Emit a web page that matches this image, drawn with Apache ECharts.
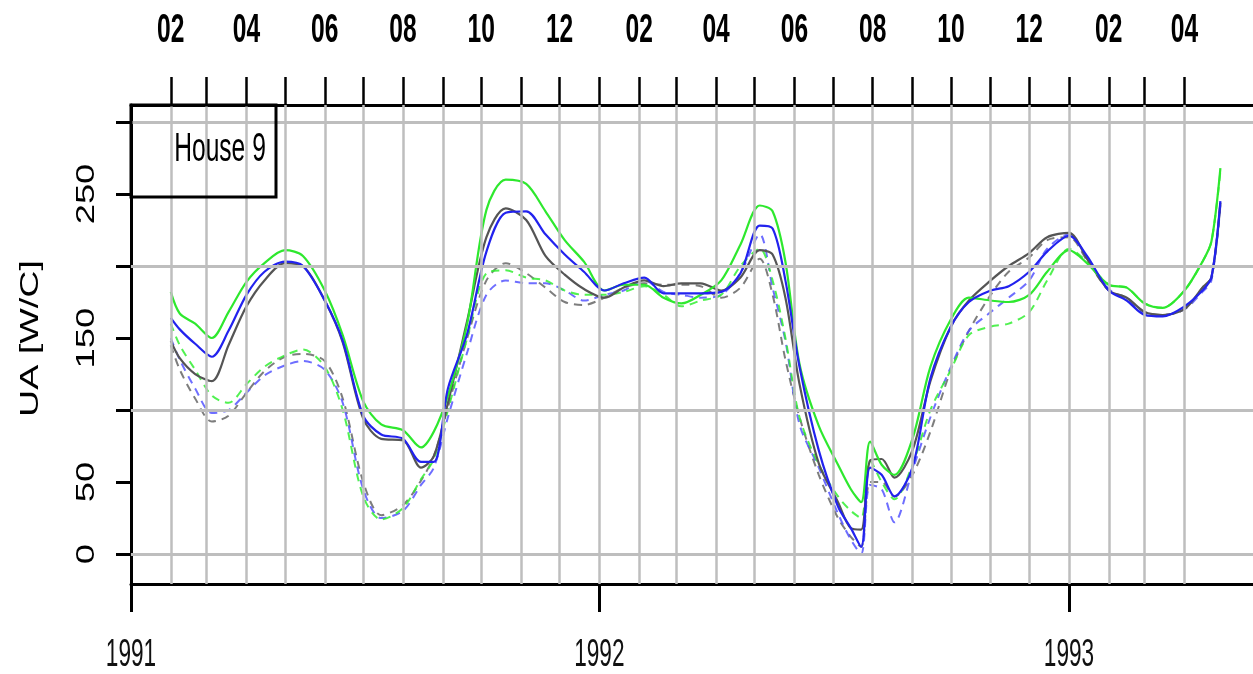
<!DOCTYPE html>
<html><head><meta charset="utf-8">
<script src="https://cdn.jsdelivr.net/npm/echarts@6/dist/echarts.min.js"></script>
<style>html,body{margin:0;padding:0;background:#fff}#c{width:1253px;height:674px}</style>
</head><body><div id="c"></div>
<script>
// ---- data ----
const dates = [
'1991-02-01','1991-02-08','1991-02-20','1991-03-05','1991-03-18','1991-04-01','1991-04-15','1991-05-01','1991-05-15','1991-06-01',
'1991-06-15','1991-07-01','1991-07-15','1991-08-01','1991-08-15','1991-08-25','1991-09-05','1991-09-20','1991-10-05','1991-10-20',
'1991-11-05','1991-11-20','1991-12-05','1991-12-20','1992-01-05','1992-01-20','1992-02-05','1992-02-20','1992-03-05','1992-03-20',
'1992-04-05','1992-04-20','1992-05-05','1992-05-15','1992-05-25','1992-06-05','1992-06-20','1992-07-05','1992-07-15','1992-07-23',
'1992-07-30','1992-08-08','1992-08-18','1992-09-01','1992-09-15','1992-10-01','1992-10-15','1992-11-01','1992-11-15','1992-12-01',
'1992-12-15','1993-01-01','1993-01-15','1993-02-01','1993-02-15','1993-03-01','1993-03-15','1993-04-01','1993-04-15','1993-04-22',
'1993-04-29'];
const solidGreen = [
182,167,160,150,168,189,202,211,207,183,
152,106,90,86,74,85,110,160,239,260,
257,238,218,203,183,187,187,178,174,180,
190,215,242,238,203,132,89,62,45,36,
78,62,55,80,130,163,178,176,175,180,
196,211,202,187,185,174,171,183,203,217,
268];
const solidBlue = [
164,156,146,137,155,180,196,203,200,176,
148,96,83,80,64,64,115,153,210,237,
238,222,208,196,183,188,192,181,181,181,
182,195,228,226,190,130,72,33,18,5,
60,55,40,60,122,158,175,183,186,196,
210,221,207,183,176,166,165,172,183,192,
245];
const solidGray = [
148,136,125,120,145,172,190,202,200,176,
147,94,80,79,60,68,105,162,220,240,
232,207,194,184,178,185,190,186,188,188,
183,192,211,208,178,118,63,36,18,17,
65,66,53,72,120,158,176,190,200,209,
220,223,205,183,178,168,166,170,185,192,
244];
const dashGray = [
145,128,108,92,96,112,127,137,139,134,
108,50,27,34,51,68,102,150,190,202,
195,185,175,173,178,185,188,187,187,186,
178,185,205,180,135,95,55,25,12,5,
50,50,40,55,85,128,155,180,196,206,
218,220,204,183,178,168,166,170,185,192,
244];
const dashBlue = [
150,135,115,98,100,112,124,131,134,128,
105,45,25,30,48,60,95,140,180,190,
188,188,183,176,180,183,190,182,180,178,
180,195,222,185,148,90,60,28,10,0,
48,45,22,58,95,130,155,168,178,190,
212,222,205,184,177,167,166,170,182,190,
242];
const dashGreen = [
160,145,128,110,105,118,130,138,142,130,
100,40,24,32,52,66,100,150,195,197,
192,190,183,180,180,182,186,180,172,176,
180,200,212,190,150,95,62,40,30,25,
65,50,38,62,100,128,152,158,160,168,
190,212,203,187,185,174,171,183,203,217,
266];

// ---- axis / tick definitions ----
const yearTickDates = ['1991-01-01','1992-01-01','1993-01-01'];
const yTickValues = [0,50,100,150,200,250,300];
const yLabelValues = [0,50,150,250];
const hGridValues = [0,100,200,300];
const xMinDate = '1991-01-01';
const lastMonthDate = '1993-04-01';
const xSpanDays = 874.4;
const yMin = -20.8, yMax = 311.8;
const panelTitle = 'House 9';
const yName = 'UA [W/C]';

function ts(s){ const p=s.split('-').map(Number); return new Date(p[0],p[1]-1,p[2]).getTime(); }
const xMin = ts(xMinDate);
const xMax = xMin + xSpanDays*86400000;
const monthStarts = [];
for (let y=1991; y<=1993; y++) for (let m=0; m<12; m++) {
  const v = new Date(y,m,1).getTime();
  if (v > xMin && v <= ts(lastMonthDate)) monthStarts.push(v);
}
const topLabelTicks = monthStarts.filter(v => (new Date(v).getMonth()+1) % 2 === 0);
const yearTicks = yearTickDates.map(ts);
const times = dates.map(ts);

const sansFam = '"Liberation Sans",Arial,Helvetica,sans-serif';
const fmtMonth = v => { const m=new Date(v).getMonth()+1; return (m<10?'0':'')+m; };
const fmtYear = v => String(new Date(v).getFullYear());

function mk(name, arr, color, dashed, opacity, width){
  return {
    name, type:'line', xAxisIndex:0, yAxisIndex:0,
    data: times.map((t,i)=>[t, arr[i]]),
    showSymbol:false, symbol:'none', smooth:0.3, z:3,
    lineStyle:{color, width:width, type: dashed ? [8,6] : 'solid', opacity: opacity},
    emphasis:{disabled:true}
  };
}

const chart = echarts.init(document.getElementById('c'), null, {renderer:'canvas'});
chart.setOption({
  animation:false,
  backgroundColor:'#fff',
  grid:{left:131, top:105, right:0, bottom:90, containLabel:false, outerBoundsMode:'none'},
  xAxis:[{
    type:'value', position:'bottom', min:xMin, max:xMax, scale:true,
    axisLine:{show:true, onZero:false, lineStyle:{color:'#000', width:3}},
    axisTick:{show:true, customValues:yearTicks, length:28, lineStyle:{color:'#000', width:3}},
    axisLabel:{show:false},
    splitLine:{show:false}
  },{
    type:'value', position:'top', min:xMin, max:xMax, scale:true,
    axisLine:{show:true, onZero:false, lineStyle:{color:'#000', width:3}},
    axisTick:{show:true, customValues:monthStarts, length:28, lineStyle:{color:'#000', width:2.5}},
    axisLabel:{show:false},
    splitLine:{show:false}
  }],
  yAxis:[{
    type:'value', min:yMin, max:yMax,
    axisLine:{show:true, onZero:false, lineStyle:{color:'#000', width:3}},
    axisTick:{show:true, customValues:yTickValues, length:15, lineStyle:{color:'#000', width:3}},
    axisLabel:{show:false},
    splitLine:{show:false}
  }],
  series:[
    {type:'line', data:[], z:1, silent:true,
     markLine:{silent:true, symbol:'none', label:{show:false}, animation:false,
       lineStyle:{color:'#bebebe', width:3, type:'solid'},
       emphasis:{disabled:true},
       data: hGridValues.map(v=>({yAxis:v})).concat(monthStarts.map(v=>({xAxis:v, lineStyle:{width:2.5, color:'#bebebe', type:'solid'}})))
     }},
    mk('dashGray', dashGray, '#666666', true, 0.85, 2),
    mk('dashBlue', dashBlue, '#5555ff', true, 0.85, 2),
    mk('dashGreen', dashGreen, '#33ee33', true, 0.85, 2),
    mk('solidGray', solidGray, '#555555', false, 1, 2.2),
    mk('solidGreen', solidGreen, '#2ee82e', false, 1, 2.2),
    mk('solidBlue', solidBlue, '#2222ee', false, 1, 2.2)
  ]
});

// Axis texts placed at positions given by the chart's own axis scales (condensed like the original)
const g = [];
g.push({type:'rect', z:100, shape:{x:131, y:105, width:145, height:92}, style:{fill:null, stroke:'#000', lineWidth:3}});
g.push({type:'text', z:100, x:220, y:150, scaleX:0.6, style:{text:panelTitle, align:'center', verticalAlign:'middle',
  fontSize:41, fontFamily:sansFam, fill:'#000'}});
topLabelTicks.forEach(v => {
  const px = chart.convertToPixel({xAxisIndex:1}, v);
  g.push({type:'text', z:100, x:px, y:31, scaleX:0.6, style:{text:fmtMonth(v), align:'center', verticalAlign:'middle',
    fontSize:41, fontWeight:'bold', fontFamily:sansFam, fill:'#000'}});
});
yearTicks.forEach(v => {
  const px = chart.convertToPixel({xAxisIndex:0}, v);
  g.push({type:'text', z:100, x:px, y:655, scaleX:0.58, style:{text:fmtYear(v), align:'center', verticalAlign:'middle',
    fontSize:39, fontFamily:sansFam, fill:'#111'}});
});
yLabelValues.forEach(v => {
  const py = chart.convertToPixel({yAxisIndex:0}, v);
  g.push({type:'text', z:100, x:87, y:py, rotation:Math.PI/2, scaleX:1.4, style:{text:String(v), align:'center', verticalAlign:'middle',
    fontSize:26, fontFamily:sansFam, fill:'#000'}});
});
const midY = chart.convertToPixel({yAxisIndex:0}, (yMin+yMax)/2);
g.push({type:'text', z:100, x:31, y:midY-6, rotation:Math.PI/2, scaleX:1.45, style:{text:yName, align:'center', verticalAlign:'middle',
  fontSize:26, fontFamily:sansFam, fill:'#000'}});
chart.setOption({graphic:g});
</script></body></html>
